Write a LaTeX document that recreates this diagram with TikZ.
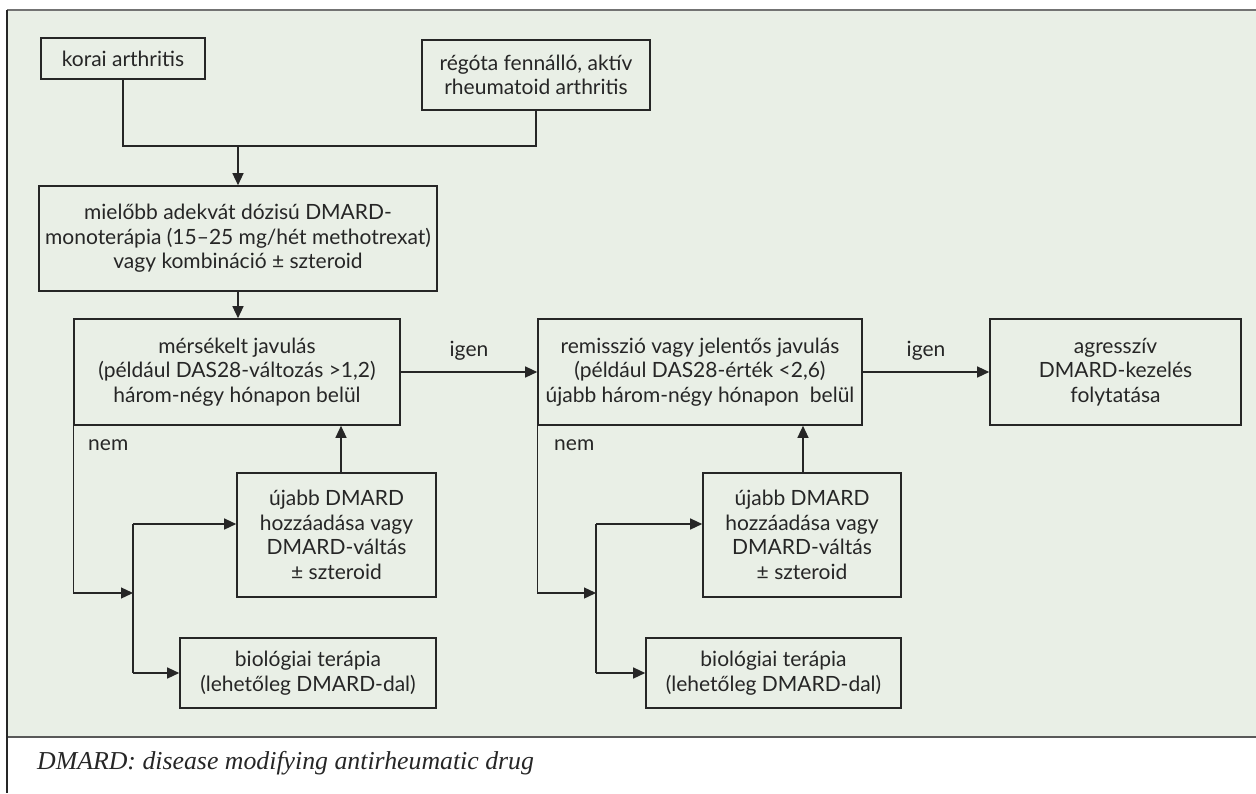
\documentclass[tikz,border=0pt]{standalone}
\usepackage{fontspec}
\setmainfont{Lato}
\newfontfamily\capfont{Liberation Serif}
\usetikzlibrary{arrows.meta,calc}
\definecolor{bggreen}{HTML}{E9EFE6}
\definecolor{ink}{HTML}{262626}
\begin{document}
\begin{tikzpicture}[x=1pt,y=-1pt,
  box/.style={draw=ink,line width=1.6pt,rectangle,align=center,inner sep=0pt,
    font=\fontsize{21}{24.5}\selectfont,text=ink},
  conn/.style={draw=ink,line width=1.3pt},
  arr/.style={conn,-{Triangle[length=12pt,width=11pt]}},
  lbl/.style={font=\fontsize{21}{24.5}\selectfont,text=ink,inner sep=0pt}]
\useasboundingbox (0,0) rectangle (1256,793);
\fill[white] (0,0) rectangle (1256,793);
\fill[bggreen] (7,10) rectangle (1256,737);
\draw[line width=2pt,color=black!55] (7,10) -- (1256,10);
\draw[line width=2pt,color=black!65] (7,737) -- (1256,737);
\draw[line width=1.5pt,color=ink] (7,10) -- (7,793);
% boxes
\node[box,minimum width=164pt,minimum height=41pt] (b1) at (123,58.5) {korai arthritis};
\node[box,minimum width=228pt,minimum height=70pt] (b2) at (536,75) {régóta fennálló, aktív\\rheumatoid arthritis};
\node[box,minimum width=398pt,minimum height=105pt] (b3) at (238,238.5) {mielőbb adekvát dózisú DMARD-\\monoterápia (15–25 mg/hét methotrexat)\\vagy kombináció ± szteroid};
\node[box,minimum width=326pt,minimum height=106pt] (b4) at (237,372) {mérsékelt javulás\\(például DAS28-változás >1,2)\\három-négy hónapon belül};
\node[box,minimum width=324pt,minimum height=106pt] (b5) at (700,372) {remisszió vagy jelentős javulás\\(például DAS28-érték <2,6)\\újabb három-négy hónapon\ \ belül};
\node[box,minimum width=251pt,minimum height=106pt] (b6) at (1115.5,372) {agresszív\\DMARD-kezelés\\folytatása};
\node[box,minimum width=199pt,minimum height=124pt] (b7) at (336.5,535) {újabb DMARD\\hozzáadása vagy\\DMARD-váltás\\± szteroid};
\node[box,minimum width=256pt,minimum height=70pt] (b8) at (308,673) {biológiai terápia\\(lehetőleg DMARD-dal)};
\node[box,minimum width=198pt,minimum height=124pt] (b9) at (802,535) {újabb DMARD\\hozzáadása vagy\\DMARD-váltás\\± szteroid};
\node[box,minimum width=255pt,minimum height=70pt] (b10) at (773.5,673) {biológiai terápia\\(lehetőleg DMARD-dal)};
% top connectors
\coordinate (j) at (238,146);
\draw[conn] (b1.south) -- (b1.south |- j) -| (b2.south);
\draw[arr] (j) -- (b3.north);
\draw[arr] (b3.south) -- (b3.south |- b4.north);
\draw[arr] (b4.east) -- node[lbl,above=11pt] {igen} (b5.west);
\draw[arr] (b5.east) -- node[lbl,above=11pt] {igen} (b6.west);
% left loop
\coordinate (la) at (133,593);
\coordinate (lt) at (133,524);
\coordinate (lb) at (133,673);
\draw[arr] (b4.south west) |- (la);
\draw[conn] (lt) -- (lb);
\draw[arr] (lt) -- (lt -| b7.west);
\draw[arr] (lb) -- (b8.west);
\draw[arr] ([xshift=4.5pt]b7.north) -- ([xshift=4.5pt]b7.north |- b4.south);
\node[lbl,anchor=west] (n1) at (88,445) {nem};
% right loop
\coordinate (ra) at (596,593);
\coordinate (rt) at (596,524);
\coordinate (rb) at (596,673);
\draw[arr] (b5.south west) |- (ra);
\draw[conn] (rt) -- (rb);
\draw[arr] (rt) -- (rt -| b9.west);
\draw[arr] (rb) -- (b10.west);
\draw[arr] ([xshift=1pt]b9.north) -- ([xshift=1pt]b9.north |- b5.south);
\node[lbl,anchor=west] (n2) at (554,445) {nem};
% caption
\node[anchor=west,inner sep=0pt,text=ink,font=\capfont\itshape\fontsize{25.8}{28}\selectfont] (cap) at (37,763) {DMARD: disease modifying antirheumatic drug};
\end{tikzpicture}
\end{document}
